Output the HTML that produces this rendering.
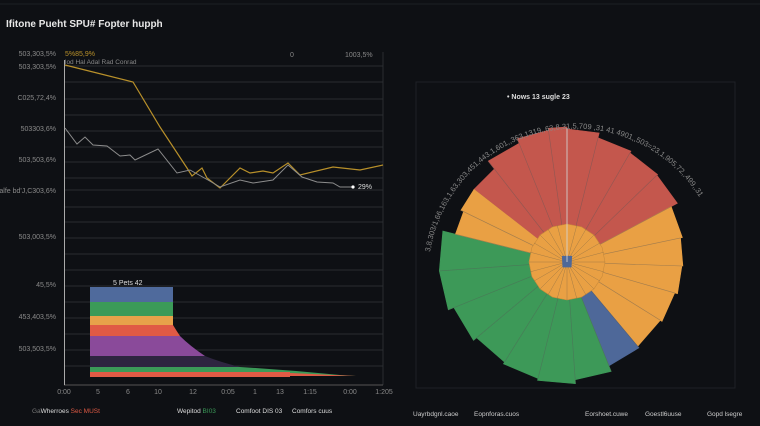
<!DOCTYPE html>
<html><head><meta charset="utf-8"><style>
html,body{margin:0;padding:0;background:#0e1014;}
svg{display:block;font-family:"Liberation Sans",sans-serif;}
</style></head><body>
<svg id="s" width="760" height="426" viewBox="0 0 760 426">
<rect width="760" height="426" fill="#0e1014"/>
<line x1="0" y1="4" x2="760" y2="4" stroke="#1c1f24"/>
<text x="6" y="27" fill="#e8e8e8" font-size="10" font-weight="bold">Ifitone Pueht SPU# Fopter hupph</text>
<g stroke="#2a2d31" stroke-width="1">
<line x1="64" y1="66" x2="383" y2="66"/><line x1="64" y1="82" x2="383" y2="82"/><line x1="64" y1="99" x2="383" y2="99"/><line x1="64" y1="115" x2="383" y2="115"/><line x1="64" y1="131" x2="383" y2="131"/><line x1="64" y1="147" x2="383" y2="147"/><line x1="64" y1="162" x2="383" y2="162"/><line x1="64" y1="178" x2="383" y2="178"/><line x1="64" y1="190" x2="383" y2="190"/><line x1="64" y1="207" x2="383" y2="207"/><line x1="64" y1="222" x2="383" y2="222"/><line x1="64" y1="238" x2="383" y2="238"/><line x1="64" y1="254" x2="383" y2="254"/><line x1="64" y1="270" x2="383" y2="270"/><line x1="64" y1="286" x2="383" y2="286"/><line x1="64" y1="302" x2="383" y2="302"/><line x1="64" y1="318" x2="383" y2="318"/><line x1="64" y1="334" x2="383" y2="334"/><line x1="64" y1="350" x2="383" y2="350"/><line x1="64" y1="366" x2="383" y2="366"/>
<line x1="383" y1="52" x2="383" y2="385"/>
<line x1="64" y1="385" x2="383" y2="385" stroke="#555"/>
</g>
<line x1="64.5" y1="60" x2="64.5" y2="385" stroke="#aaa"/>
<g fill="#8a8a8a" font-size="7" text-anchor="end">
<text x="56" y="56">503,303,5%</text><text x="56" y="69">503,303,5%</text><text x="56" y="100">C025,72,4%</text><text x="56" y="131">503303,6%</text><text x="56" y="162">503,503,6%</text><text x="56" y="193">alfe bd'J,C303,6%</text><text x="56" y="239">503,003,5%</text><text x="56" y="287">45,5%</text><text x="56" y="319">453,403,5%</text><text x="56" y="351">503,503,5%</text>
</g>
<text x="65" y="56" fill="#b8902a" font-size="7">5%85,9%</text>
<text x="65" y="64" fill="#888" font-size="6.5">lod Hal Adal Rad Conrad</text>
<text x="290" y="57" fill="#888" font-size="7">0</text>
<text x="345" y="57" fill="#888" font-size="7">1003,5%</text>
<polyline fill="none" stroke="#b8902a" stroke-width="1.2" points="65,65 97,73 133,82 160,127 187,168 192,176 202,168 207,178 220,188 240,168 250,173 263,171 273,173 288,163 300,175 333,167 360,170 383,165"/>
<polyline fill="none" stroke="#8c8c8c" stroke-width="1" points="65,128 77,144 85,137 93,145 107,146 120,156 130,155 135,160 158,149 177,173 190,170 208,180 220,187 240,180 253,183 273,180 288,165 302,177 317,182 333,183 340,187 353,187"/>
<circle cx="353" cy="187" r="1.6" fill="#fff"/>
<text x="358" y="189" fill="#ddd" font-size="7">29%</text>
<rect x="90" y="287" width="83" height="15" fill="#4f6a9c"/>
<rect x="90" y="302" width="83" height="14" fill="#3b9a58"/>
<rect x="90" y="316" width="83" height="9" fill="#e7a24a"/>
<path d="M90,325 H173 Q176,330 180,336 H90Z" fill="#e05a45"/>
<path d="M90,336 H180 Q190,346 205,356 H90Z" fill="#8a4a9a"/>
<path d="M90,356 H205 Q220,362 240,367 H90Z" fill="#2e2540"/>
<path d="M90,367 H240 Q290,370 340,375 L356,376 L90,372Z" fill="#3b9a58"/>
<path d="M90,372 L290,373 L356,376 H90 V377 Z" fill="#e05a45"/>
<rect x="90" y="372" width="200" height="5" fill="#e05a45"/>
<text x="113" y="285" fill="#ddd" font-size="7">5 Pets 42</text>
<g fill="#888" font-size="7" text-anchor="middle">
<text x="64" y="394">0:00</text><text x="98" y="394">5</text><text x="128" y="394">6</text><text x="158" y="394">10</text><text x="193" y="394">12</text><text x="228" y="394">0:05</text><text x="255" y="394">1</text><text x="280" y="394">13</text><text x="310" y="394">1:15</text><text x="350" y="394">0:00</text><text x="384" y="394">1:205</text>
</g>
<g font-size="6.5">
<text x="32" y="413" fill="#777">Ga<tspan fill="#ddd">Wherroes</tspan> <tspan fill="#e05a45">Sec MUSt</tspan></text>
<text x="177" y="413" fill="#ddd">Wepitod <tspan fill="#3b9a58">BI03</tspan></text>
<text x="236" y="413" fill="#ddd">Comfoot DIS 03</text>
<text x="292" y="413" fill="#ddd">Comfors cuus</text>
</g>
<rect x="416" y="82" width="319" height="306" fill="none" stroke="#1e2126"/>
<g id="polar"></g>
<text x="507" y="99" fill="#ddd" font-size="7" font-weight="bold">• Nows 13 sugle 23</text>
<path id="arc" d="M 430 252 A 147 147 0 0 1 700 198" fill="none"/>
<text fill="#888" font-size="7.5"><textPath href="#arc">3,8,303/1,66,163,1,63,303,451,443,1,601,,363,1319,,63,8,31,5,709 ,31 41 4901,,503=23,1,905,72,,499,,319,183</textPath></text>
<g fill="#ccc" font-size="6.5">
<text x="413" y="416">Uayrbdgnl.caoe</text><text x="474" y="416">Eopnforas.cuos</text><text x="585" y="416">Eorshoet.cuwe</text><text x="645" y="416">Goestl6uuse</text><text x="707" y="416">Gopd lsegre</text>
</g>
</svg>
<script>
(function(){
var cx=567,cy=262,g=document.getElementById('polar');
var R='#c4574d',O='#e9a044',G='#3d9958',B='#4e6899';
var segs=[[-52,-38,118,R],[-38,-22,128,R],[-22,-8,133,R],[-8,0,135,R],[0,14,133,R],[14,30,128,R],[30,46,126,R],[46,62,125,R],
[62,78,118,O],[78,92,116,O],[92,106,115,O],[106,122,112,O],[122,140,110,O],
[140,158,112,B],
[158,176,118,G],[176,194,122,G],[194,212,120,G],[212,230,118,G],[230,248,122,G],[248,266,128,G],[266,284,128,G],
[284,296,115,O],[296,308,118,O]];
function pt(a,r){a=(a-90)*Math.PI/180;return (cx+r*Math.cos(a)).toFixed(1)+','+(cy+r*Math.sin(a)).toFixed(1);}
var h='';
segs.forEach(function(s){h+='<polygon points="'+cx+','+cy+' '+pt(s[0],s[2])+' '+pt(s[1],s[2])+'" fill="'+s[3]+'" stroke="'+s[3]+'" stroke-width="0.6"/>';
var q=pt(s[0],s[2]).split(',');h+='<line x1="'+cx+'" y1="'+cy+'" x2="'+q[0]+'" y2="'+q[1]+'" stroke="rgba(90,90,90,0.5)" stroke-width="0.6"/>';});
var p=[];for(var i=0;i<16;i++)p.push(pt(i*22.5,38));
h+='<polygon points="'+p.join(' ')+'" fill="#e9a044" stroke="#c98a3a" stroke-width="0.6"/>';
for(var i=0;i<24;i++){var q=pt(i*15,38).split(',');h+='<line x1="'+cx+'" y1="'+cy+'" x2="'+q[0]+'" y2="'+q[1]+'" stroke="rgba(120,100,70,0.6)" stroke-width="0.5"/>';}
h+='<polygon points="'+[pt(-40,8),pt(40,8),pt(140,7),pt(220,7)].join(' ')+'" fill="#4e6899"/>';
h+='<line x1="'+cx+'" y1="'+cy+'" x2="'+cx+'" y2="128" stroke="#ddd" stroke-width="0.8"/>';
g.innerHTML=h;
})();
</script>
</body></html>
